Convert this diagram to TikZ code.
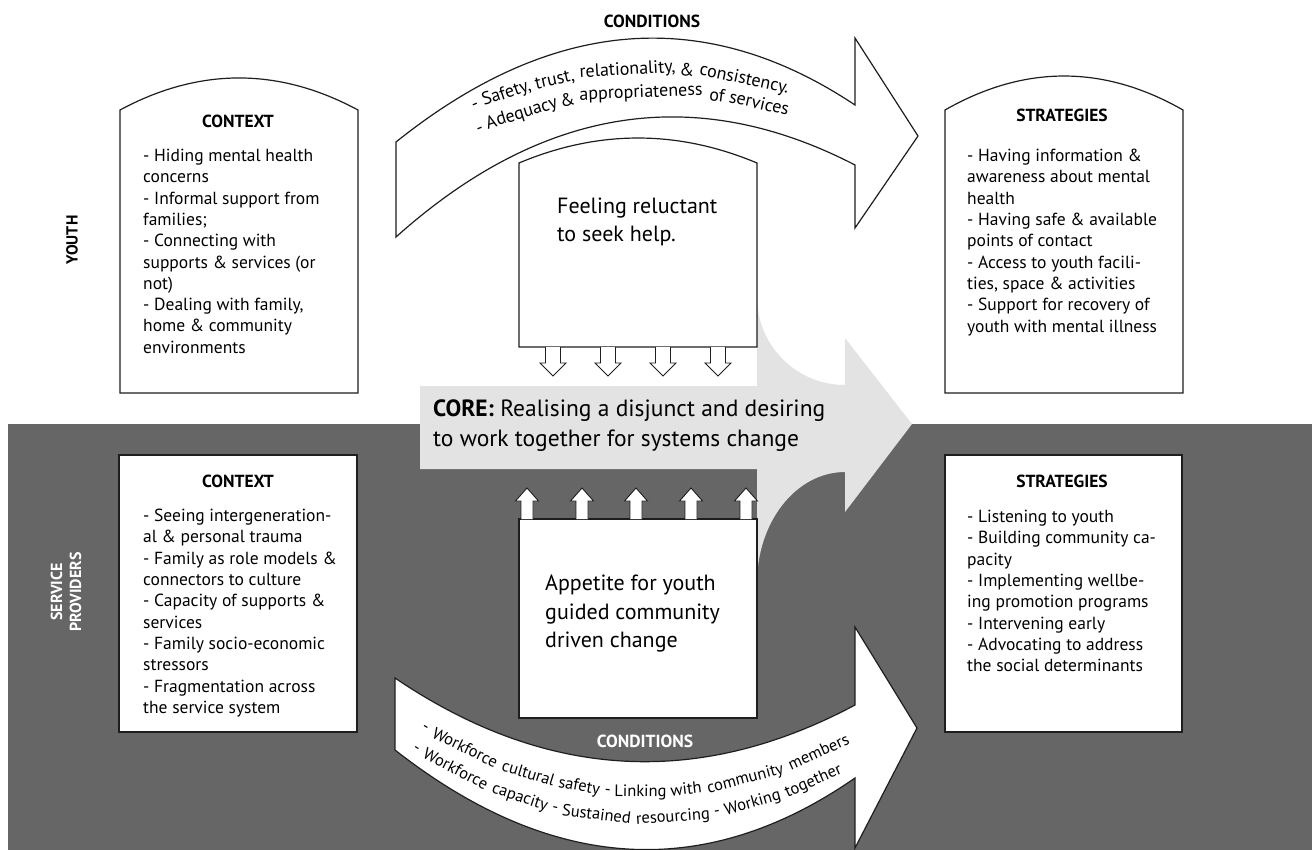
\documentclass[tikz,border=0pt]{standalone}
\usepackage{fontspec}
\setmainfont{PT Sans}
\definecolor{bandgray}{HTML}{666666}
\definecolor{coregray}{HTML}{E3E3E3}
\definecolor{inkline}{HTML}{1E1E1E}
\newcommand\mybody{\fontsize{17.5}{21.3}\selectfont}
\newcommand\mytitle{\bfseries\fontsize{17.5}{21}\selectfont}
\newcommand\mybig{\fontsize{22}{28.5}\selectfont}
\newcommand\mycore{\fontsize{23.5}{30}\selectfont}
\newcommand\mycurvetop{\fontsize{18}{21}\selectfont}
\newcommand\mycurvebot{\fontsize{16.5}{20}\selectfont}
\newcommand\myside{\bfseries\fontsize{16}{19}\selectfont}
\tikzset{
  boxline/.style={draw=inkline, line width=1.2pt, fill=white},
  bandarrow/.style={draw=inkline, line width=1.2pt, fill=white},
  body/.style={font=\mybody, align=left, inner sep=0pt, anchor=north west},
  ttl/.style={font=\mytitle, inner sep=0pt},
  bigtxt/.style={font=\mybig, align=left, inner sep=0pt, anchor=north west},
  smallarrow/.style={draw=inkline, line width=0.9pt, fill=white},
  cwt/.style={sloped, anchor=base, inner sep=0pt, font=\mycurvetop},
  cwb/.style={sloped, anchor=base, inner sep=0pt, font=\mycurvebot},
}
\begin{document}
\begin{tikzpicture}[x=1pt,y=-1pt]
\useasboundingbox (0,0) rectangle (1312,850);
% dark band
\fill[bandgray] (8,424) rectangle (1312,850);
% side labels
\node[rotate=90, font=\myside, inner sep=0pt] (youth) at (72,240) {YOUTH};
\node[rotate=90, font=\myside, text=white, align=center, inner sep=0pt] (providers) at (66,592) {SERVICE\\PROVIDERS};
% core arrow
\fill[coregray] (420,386) -- (757,386) -- (757,297)
  arc[start angle=180, end angle=90, radius=88] -- (845,338) -- (912,424)
  -- (845,512) -- (845,472) .. controls (796,472) and (757,522) .. (757,583)
  -- (757,469) -- (420,469) -- cycle;
\node[font=\mycore, align=left, inner sep=0pt, anchor=north west] (core) at (433,400)
  {\textbf{CORE:} Realising a disjunct and desiring\\to work together for systems change};
% top conditions arrow
\node[font=\mytitle, inner sep=0pt] (condtop) at (652,21) {CONDITIONS};
\draw[bandarrow] (396,142) .. controls (552,17) and (705,5) .. (855,105)
  -- (855,38) -- (918,136) -- (855,228) -- (855,165)
  .. controls (695,82.3) and (542,106.3) .. (396,237) -- cycle;
\path (440,126) .. controls (580,57.2) and (720,57.3) .. (860,124.4)
  node[cwt, pos=0.088] (ta1) {-}
  node[cwt, pos=0.162] (ta2) {Safety,}
  node[cwt, pos=0.276] (ta3) {trust,}
  node[cwt, pos=0.447] (ta4) {relationality,}
  node[cwt, pos=0.587] (ta5) {\&}
  node[cwt, pos=0.722] (ta6) {consistency.};
\path (440,151.9) .. controls (580,81.8) and (720,79.2) .. (860,144.3)
  node[cwt, pos=0.099] (tb1) {-}
  node[cwt, pos=0.198] (tb2) {Adequacy}
  node[cwt, pos=0.306] (tb3) {\&}
  node[cwt, pos=0.479] (tb4) {appropriateness}
  node[cwt, pos=0.658] (tb5) {of}
  node[cwt, pos=0.757] (tb6) {services};
% bottom conditions arrow
\node[font=\mytitle, text=white, inner sep=0pt] (condbot) at (645,741) {CONDITIONS};
\draw[bandarrow] (395,678) .. controls (545,779.7) and (698.3,788.7) .. (855,705)
  -- (855,627) -- (917,728) -- (855,848) -- (855,778)
  .. controls (705,882) and (551.7,872.7) .. (395,750) -- cycle;
\path (395,713) .. controls (545,814.7) and (698.3,823.7) .. (855,740)
  node[cwb, pos=0.063] (ba1) {-}
  node[cwb, pos=0.150] (ba2) {Workforce}
  node[cwb, pos=0.291] (ba3) {cultural}
  node[cwb, pos=0.404] (ba4) {safety}
  node[cwb, pos=0.467] (ba5) {-}
  node[cwb, pos=0.539] (ba6) {Linking}
  node[cwb, pos=0.639] (ba7) {with}
  node[cwb, pos=0.768] (ba8) {community}
  node[cwb, pos=0.927] (ba9) {members};
\path (395,739) .. controls (545,840.7) and (698.3,849.7) .. (855,766)
  node[cwb, pos=0.043] (bb1) {-}
  node[cwb, pos=0.129] (bb2) {Workforce}
  node[cwb, pos=0.273] (bb3) {capacity}
  node[cwb, pos=0.351] (bb4) {-}
  node[cwb, pos=0.442] (bb5) {Sustained}
  node[cwb, pos=0.610] (bb6) {resourcing}
  node[cwb, pos=0.706] (bb7) {-}
  node[cwb, pos=0.784] (bb8) {Working}
  node[cwb, pos=0.915] (bb9) {together};
% youth context box
\draw[boxline] (120,393) -- (120,110) .. controls (199.3,67.3) and (278.7,67.3) .. (358,110) -- (358,393) -- cycle;
\node[ttl] (ctxyt) at (238,121) {CONTEXT};
\node[body] (ctxyb) at (143,149) {- Hiding mental health\\concerns\\- Informal support from\\families;\\- Connecting with\\supports \& services (or\\not)\\- Dealing with family,\\home \& community\\environments};
% youth strategies box
\draw[boxline] (945,393) -- (945,110) .. controls (1024.3,64.7) and (1103.7,64.7) .. (1183,110) -- (1183,393) -- cycle;
\node[ttl] (strytt) at (1062,115) {STRATEGIES};
\node[body] (strytb) at (967,149) {- Having information \&\\awareness about mental\\health\\- Having safe \& available\\points of contact\\- Access to youth facili-\\ties, space \& activities\\- Support for recovery of\\youth with mental illness};
% feeling box
\draw[boxline] (519,347) -- (519,163) .. controls (598.3,129.7) and (677.7,129.7) .. (757,163) -- (757,347) -- cycle;
\node[bigtxt] (feel) at (557,197.7) {Feeling reluctant\\to seek help.};
\foreach \cx in {553,608,663,718}{
  \draw[smallarrow] (\cx-7.5,347) -- (\cx-7.5,363) -- (\cx-13,363) -- (\cx,376) -- (\cx+13,363) -- (\cx+7.5,363) -- (\cx+7.5,347);
}
% providers context box
\draw[boxline] (119,455) rectangle (357,732);
\node[ttl] (ctxpt) at (238,481) {CONTEXT};
\node[body] (ctxpb) at (143,509) {- Seeing intergeneration-\\al \& personal trauma\\- Family as role models \&\\connectors to culture\\- Capacity of supports \&\\services\\- Family socio-economic\\stressors\\- Fragmentation across\\the service system};
% providers strategies box
\draw[boxline] (945,455) rectangle (1182,732);
\node[ttl] (strpt) at (1062,481) {STRATEGIES};
\node[body] (strpb) at (967,510) {- Listening to youth\\- Building community ca-\\pacity\\- Implementing wellbe-\\ing promotion programs\\- Intervening early\\- Advocating to address\\the social determinants};
% appetite box
\draw[boxline] (519,519) rectangle (757,718);
\node[bigtxt] (appetite) at (545,574.7) {Appetite for youth\\guided community\\driven change};
\foreach \cx in {527,582,636,691,746}{
  \draw[smallarrow] (\cx-6,519) -- (\cx-6,501) -- (\cx-11.5,501) -- (\cx,488) -- (\cx+11.5,501) -- (\cx+6,501) -- (\cx+6,519);
}
\end{tikzpicture}
\end{document}
